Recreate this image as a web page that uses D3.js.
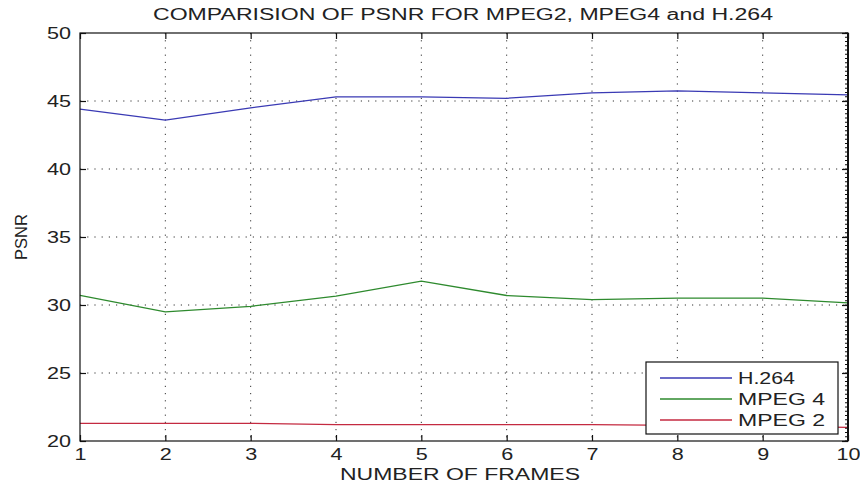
<!DOCTYPE html>
<html><head><meta charset="utf-8">
<script src="https://cdn.jsdelivr.net/npm/d3@7"></script>
<style>body{margin:0;background:#fff}svg{display:block}text{font-family:"Liberation Sans",Arial,sans-serif;fill:#222}</style>
</head><body><svg id="c" width="860" height="484"></svg>
<script>
const frames = [1,2,3,4,5,6,7,8,9,10];
const h264  = [44.4,43.6,44.5,45.3,45.3,45.2,45.6,45.75,45.6,45.45];
const mpeg4 = [30.7,29.5,29.9,30.65,31.75,30.7,30.4,30.5,30.5,30.15];
const mpeg2 = [21.3,21.3,21.3,21.2,21.2,21.2,21.2,21.15,21.1,21.0];
const seriesNames = ["H.264","MPEG 4","MPEG 2"];
const seriesColors = ["#3a3ab4","#2e8a2e","#c42a40"];
const yTicks = [20,25,30,35,40,45,50];
const xTicks = [1,2,3,4,5,6,7,8,9,10];
const title = "COMPARISION OF PSNR FOR MPEG2, MPEG4 and H.264";
const xTitle = "NUMBER OF FRAMES";
const yTitle = "PSNR";

const svg = d3.select("#c");
const L=80,R=848,T=33,B=441;
const x = d3.scaleLinear().domain([1,10]).range([L,R]);
const y = d3.scaleLinear().domain([20,50]).range([B,T]);

// grid
const g = svg.append("g");
g.selectAll(".vg").data(xTicks.slice(1,-1)).enter().append("line")
 .attr("x1",d=>x(d)).attr("x2",d=>x(d)).attr("y1",T).attr("y2",B)
 .attr("stroke","#333").attr("stroke-width",1).attr("stroke-dasharray","1.2,6");
g.selectAll(".hg").data(yTicks.slice(1,-1)).enter().append("line")
 .attr("y1",d=>y(d)).attr("y2",d=>y(d)).attr("x1",L).attr("x2",R)
 .attr("stroke","#333").attr("stroke-width",1).attr("stroke-dasharray","1.2,6");

// lines
const line = d3.line().x((d,i)=>x(frames[i])).y(d=>y(d));
[h264,mpeg4,mpeg2].forEach((s,k)=>{
  svg.append("path").datum(s).attr("d",line).attr("fill","none")
   .attr("stroke",seriesColors[k]).attr("stroke-width",1.3);
});

// box
svg.append("rect").attr("x",L).attr("y",T).attr("width",R-L).attr("height",B-T)
 .attr("fill","none").attr("stroke","#111").attr("stroke-width",1.2);

// axes (ticks inward)
const xb = svg.append("g").attr("transform",`translate(0,${B})`)
 .call(d3.axisBottom(x).tickValues(xTicks).tickSize(-6).tickPadding(8).tickFormat(d3.format("d")));
const xt = svg.append("g").attr("transform",`translate(0,${T})`)
 .call(d3.axisTop(x).tickValues(xTicks).tickSize(-6).tickFormat(""));
const yl = svg.append("g").attr("transform",`translate(${L},0)`)
 .call(d3.axisLeft(y).tickValues(yTicks).tickSize(-6).tickPadding(9).tickFormat(d3.format("d")));
const yr = svg.append("g").attr("transform",`translate(${R},0)`)
 .call(d3.axisRight(y).tickValues(yTicks).tickSize(-6).tickFormat(""));
// right minor ticks
const minor = d3.range(20,50.001,5/16);
svg.append("g").selectAll("line").data(minor).enter().append("line")
 .attr("x1",R).attr("x2",R-3).attr("y1",d=>y(d)).attr("y2",d=>y(d))
 .attr("stroke","#111").attr("stroke-width",1);
[xb,xt,yl,yr].forEach(a=>{
  a.select(".domain").remove();
  a.selectAll(".tick line").attr("stroke","#111").attr("stroke-width",1.2);
  a.selectAll("text").attr("font-size",16).attr("fill","#222")
   .style("font-family","'Liberation Sans',Arial,sans-serif")
   .attr("textLength",function(){return this.textContent.length*12;})
   .attr("lengthAdjust","spacingAndGlyphs");
});
svg.append("rect").attr("x",R-1).attr("y",T).attr("width",2).attr("height",B-T).attr("fill","#111");

// titles
svg.append("text").attr("x",(153+773)/2).attr("y",20).attr("text-anchor","middle")
 .attr("font-size",16).attr("textLength",620).attr("lengthAdjust","spacingAndGlyphs").text(title);
svg.append("text").attr("x",460).attr("y",480).attr("text-anchor","middle")
 .attr("font-size",16).attr("textLength",240).attr("lengthAdjust","spacingAndGlyphs").text(xTitle);
svg.append("text").attr("transform","translate(27,237) rotate(-90)").attr("text-anchor","middle")
 .attr("font-size",16).attr("textLength",46).attr("lengthAdjust","spacingAndGlyphs").text(yTitle);

// legend
const lg = svg.append("g");
lg.append("rect").attr("x",646).attr("y",362).attr("width",192).attr("height",72)
 .attr("fill","#fff").attr("stroke","#111").attr("stroke-width",1.2);
const legW = [57,87,87];
seriesNames.forEach((n,i)=>{
  const yy = 378 + i*21;
  lg.append("line").attr("x1",660).attr("x2",732).attr("y1",yy).attr("y2",yy)
   .attr("stroke",seriesColors[i]).attr("stroke-width",1.3);
  lg.append("text").attr("x",738).attr("y",yy+6).attr("font-size",17)
   .attr("textLength",legW[i]).attr("lengthAdjust","spacingAndGlyphs").text(n);
});
</script></body></html>
